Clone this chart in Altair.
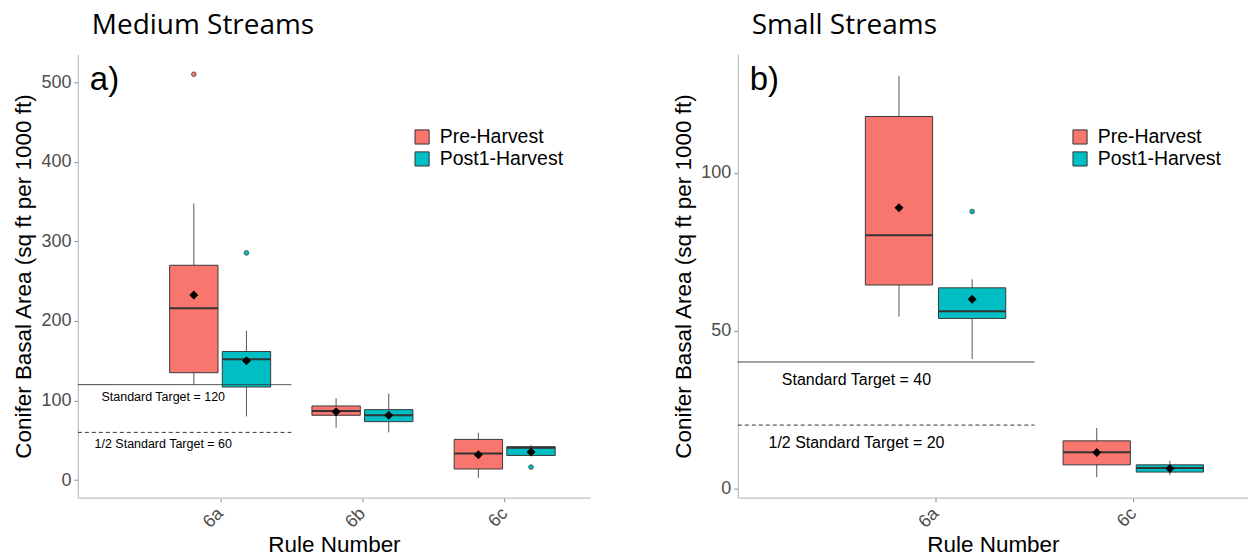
import altair as alt
import pandas as pd

# ---- shared settings -------------------------------------------------------
groups = ["Pre-Harvest", "Post1-Harvest"]
group_colors = ["#F8766D", "#00BFC4"]
dodge = {"Pre-Harvest": -0.185, "Post1-Harvest": 0.185}
half_box = 0.17

# ---- Medium streams: box statistics per rule and harvest period ------------
med_rules = ["6a", "6a", "6b", "6b", "6c", "6c"]
med_groups = ["Pre-Harvest", "Post1-Harvest"] * 3
med_wlo = [120, 80, 66, 60, 3, 31]
med_q1 = [135, 117, 81.5, 73.5, 14, 31]
med_median = [216, 152, 87, 81.5, 33.6, 40.7]
med_q3 = [270, 161.6, 93.2, 88.6, 51.2, 42]
med_whi = [347.6, 187.7, 102.9, 108.7, 59.6, 44]
med_mean = [232.6, 150, 86, 81.5, 31.9, 35.3]
med_out_rule = ["6a", "6a", "6c"]
med_out_group = ["Pre-Harvest", "Post1-Harvest", "Post1-Harvest"]
med_out_value = [510, 285.5, 16.4]
med_categories = ["6a", "6b", "6c"]

# ---- Small streams ---------------------------------------------------------
small_rules = ["6a", "6a", "6c", "6c"]
small_groups = ["Pre-Harvest", "Post1-Harvest"] * 2
small_wlo = [54.4, 40.9, 3.5, 4.1]
small_q1 = [64.4, 53.8, 7.4, 5.1]
small_median = [80.2, 56.1, 11.4, 6.4]
small_q3 = [117.8, 63.5, 15, 7.4]
small_whi = [130.7, 66.2, 19.1, 8.7]
small_mean = [88.9, 59.9, 11.3, 6.2]
small_out_rule = ["6a"]
small_out_group = ["Post1-Harvest"]
small_out_value = [87.7]
small_categories = ["6a", "6c"]

# ---- target lines ----------------------------------------------------------
med_targets = [120, 60]
small_targets = [40, 20]
target_names = ["Standard Target", "1/2 Standard Target"]
target_dash = [[1, 0], [4, 3]]

FONT = "Liberation Sans"


def box_frame(rules, grps, wlo, q1, med, q3, whi, mean, cats):
    df = pd.DataFrame({"rule": rules, "group": grps, "wlo": wlo, "q1": q1,
                       "median": med, "q3": q3, "whi": whi, "mean": mean})
    df["xc"] = [cats.index(r) + 1 + dodge[g] for r, g in zip(rules, grps)]
    df["xl"] = df["xc"] - half_box
    df["xr"] = df["xc"] + half_box
    return df


def outlier_frame(rules, grps, vals, cats):
    df = pd.DataFrame({"rule": rules, "group": grps, "value": vals})
    df["xc"] = [cats.index(r) + 1 + dodge[g] for r, g in zip(rules, grps)]
    return df


def panel(boxes, outliers, cats, targets, y_domain, y_ticks, x_max, width,
          title, tag, label_size, label_dy, legend_x):
    label_expr = "[" + ",".join(["''"] + [f"'{c}'" for c in cats]) + "][datum.value]"
    xs = alt.Scale(domain=[0, x_max], nice=False, zero=False)
    ys = alt.Scale(domain=y_domain, nice=False, zero=False)
    x_axis = alt.Axis(values=list(range(1, len(cats) + 1)), labelExpr=label_expr,
                      title="Rule Number", labelAngle=-45, labelAlign="right",
                      labelBaseline="middle", grid=False)
    y_axis = alt.Axis(values=y_ticks, title="Conifer Basal Area (sq ft per 1000 ft)",
                      grid=False)
    color = alt.Color("group:N", scale=alt.Scale(domain=groups, range=group_colors),
                      legend=alt.Legend(title=None, orient="none", legendX=legend_x,
                                        legendY=73, symbolType="square",
                                        symbolSize=200, symbolStrokeColor="#333333",
                                        symbolStrokeWidth=1, labelFontSize=19.5,
                                        labelFont=FONT, labelColor="#000000",
                                        labelOffset=8, rowPadding=1, symbolOpacity=1))

    base = alt.Chart(boxes)
    whisk = base.mark_rule(color="#555555", strokeWidth=1).encode(
        x=alt.X("xc:Q", scale=xs, axis=x_axis), y=alt.Y("wlo:Q", scale=ys, axis=y_axis),
        y2="whi:Q")
    box = base.mark_bar(stroke="#3a3a3a", strokeWidth=1, opacity=1).encode(
        x="xl:Q", x2="xr:Q", y="q1:Q", y2="q3:Q", color=color)
    med = base.mark_rule(color="#333333", strokeWidth=2).encode(
        x="xl:Q", x2="xr:Q", y="median:Q")
    mean = base.mark_point(shape="diamond", filled=True, color="#000000", size=80,
                           opacity=1).encode(x="xc:Q", y="mean:Q")
    outs = alt.Chart(outliers).mark_point(shape="circle", filled=True, size=22,
                                          stroke="#444444", strokeWidth=0.8,
                                          opacity=1).encode(
        x="xc:Q", y="value:Q",
        fill=alt.Fill("group:N", scale=alt.Scale(domain=groups, range=group_colors),
                      legend=None))

    tdf = pd.DataFrame({"y": targets, "name": target_names,
                        "label": [f"{n} = {t}" for n, t in zip(target_names, targets)],
                        "x0": [0, 0], "x1": [1.5, 1.5], "xt": [0.6, 0.6]})
    lines = []
    for i in range(2):
        lines.append(alt.Chart(tdf.iloc[[i]]).mark_rule(
            color="#333333", strokeWidth=1, strokeDash=target_dash[i]).encode(
            x="x0:Q", x2="x1:Q", y="y:Q"))
    labels = alt.Chart(tdf).mark_text(font=FONT, fontSize=label_size, color="#000000",
                                      baseline="middle", dy=label_dy).encode(
        x="xt:Q", y="y:Q", text="label:N")
    tag_text = alt.Chart(pd.DataFrame({"t": [tag]})).mark_text(
        font=FONT, fontSize=33, align="left", baseline="middle", color="#000000").encode(
        x=alt.value(12), y=alt.value(26), text="t:N")

    return alt.layer(whisk, box, med, mean, outs, *lines, labels, tag_text).properties(
        width=width, height=444,
        title=alt.TitleParams(title, anchor="start", frame="group", fontSize=28,
                              font="Open Sans", fontWeight="normal", color="#000000",
                              dx=14, offset=14))


med_box = box_frame(med_rules, med_groups, med_wlo, med_q1, med_median, med_q3,
                    med_whi, med_mean, med_categories)
med_out = outlier_frame(med_out_rule, med_out_group, med_out_value, med_categories)
small_box = box_frame(small_rules, small_groups, small_wlo, small_q1, small_median,
                      small_q3, small_whi, small_mean, small_categories)
small_out = outlier_frame(small_out_rule, small_out_group, small_out_value,
                          small_categories)

left = panel(med_box, med_out, med_categories, med_targets, [-22, 535],
             [0, 100, 200, 300, 400, 500], 3.6, 513, "Medium Streams", "a)",
             12.5, 12, 335)
right = panel(small_box, small_out, small_categories, small_targets, [-3, 137.5],
              [0, 50, 100], 2.58, 511, "Small Streams", "b)", 16, 18, 333)

chart = alt.hconcat(left, right, spacing=82).resolve_scale(
    color="independent", fill="independent").resolve_legend(
    color="independent").properties(
    padding={"left": 12, "top": 12, "right": 0, "bottom": 0}
).configure_view(stroke=None).configure_axis(
    domainColor="#c0c0c0", domainWidth=1.2, tickColor="#888888", tickSize=4,
    labelFont=FONT, labelFontSize=18, labelColor="#4d4d4d",
    titleFont=FONT, titleFontSize=22.5, titleColor="#000000", titleFontWeight="normal"
).configure_axisX(labelPadding=9, titlePadding=2).configure_axisY(
    labelPadding=3, titlePadding=5)

chart.save("out.html", embed_options={"renderer": "svg", "actions": False})
